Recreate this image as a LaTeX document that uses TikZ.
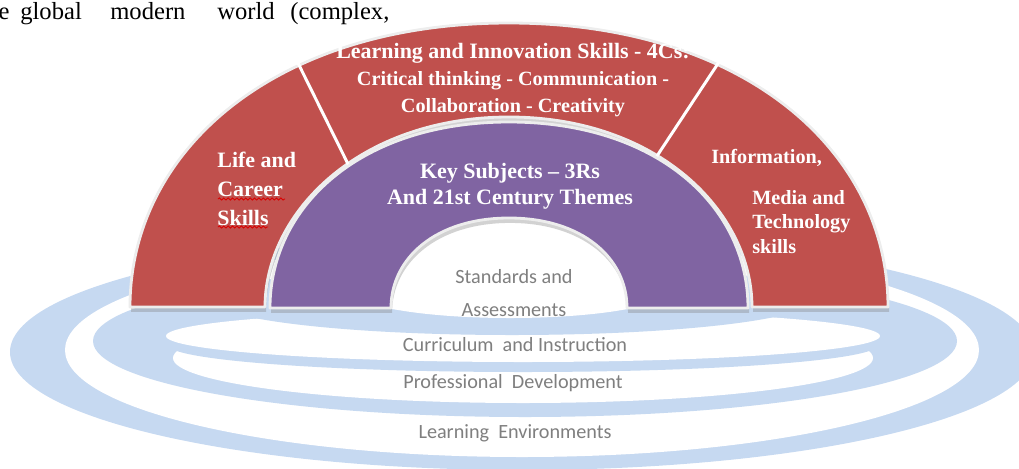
\documentclass[tikz,border=0pt]{standalone}
\usepackage{fontspec}
\setmainfont{Liberation Serif}
\newfontfamily\ringfont{Carlito}
\usetikzlibrary{shadows,decorations.pathmorphing}

\definecolor{archred}{HTML}{C0504D}
\definecolor{archpurple}{HTML}{8064A2}
\definecolor{ringblue}{HTML}{C6D9F1}
\definecolor{ringtext}{HTML}{7F7F7F}
\definecolor{rimgray}{HTML}{EDEDED}

\begin{document}
\begin{tikzpicture}[
  x=0.02cm, y=-0.02cm,
  band/.style={fill=ringblue},
  gap/.style={fill=white},
  arch/.style={draw=rimgray,line width=1.6pt,line join=round,
               drop shadow={shadow xshift=0.6pt,shadow yshift=-2.8pt,opacity=.35}},
  divider/.style={white,line width=1.7pt},
  lab/.style={text=white,font=\bfseries\fontsize{11.5}{14}\selectfont,inner sep=0pt},
  ringlab/.style={text=ringtext,font=\ringfont\fontsize{11.5}{14}\selectfont,inner sep=0pt},
  word/.style={inner sep=0pt,anchor=base west,font=\fontsize{14}{16}\selectfont},
  spell/.style={red!85!black,line width=0.5pt,decorate,
                decoration={snake,amplitude=0.6pt,segment length=2.5pt}}
]
\useasboundingbox (0,0) rectangle (1019,468);

% ---- running text cut off at the top ----
\node[word,anchor=base east] (w1) at (10,19) {the};
\node[word] (w2) at (20,19) {global};
\node[word] (w3) at (110,19) {modern};
\node[word] (w4) at (217,19) {world};
\node[word] (w5) at (290,19) {(complex,};

% ---- blue rings underneath, painted from the outside in ----
\fill[band] (522,352) ellipse [x radius=512,y radius=118];
\fill[gap]  (522,350) ellipse [x radius=457,y radius=107];
\fill[band] (525,341) ellipse [x radius=432,y radius=76];
\fill[gap]  (523,358) ellipse [x radius=350,y radius=45];
\fill[band] (523,345) ellipse [x radius=355,y radius=27];
\fill[gap]  (523,336) ellipse [x radius=357,y radius=26];
\fill[band] (512,300) ellipse [x radius=300,y radius=35];
\fill[gap]  (510,290) ellipse [x radius=160,y radius=28];
% opening under the inner arch stays white
\fill[gap] (391,309) .. controls (391,258) and (436,218) .. (509,218)
                     .. controls (582,218) and (627,258) .. (627,309) -- cycle;

% ---- outer arch (red) ----
\path[arch,fill=archred]
  (130,307) .. controls (130,151) and (274,23) .. (509,23)
            .. controls (744,23) and (888,151) .. (888,307)
  -- (752,307) .. controls (752,212) and (658,117) .. (509,117)
               .. controls (360,117) and (265,212) .. (265,307)
  -- cycle;
\draw[divider] (297,61) -- (349,166);
\draw[divider] (719,62) -- (655,159);

% ---- middle arch (purple) ----
\path[arch,fill=archpurple]
  (270,308) .. controls (270,206) and (361,122) .. (509,122)
            .. controls (657,122) and (748,206) .. (748,308)
  -- (627,308) .. controls (627,258) and (582,218) .. (509,218)
               .. controls (436,218) and (391,258) .. (391,308)
  -- cycle;

% ---- labels on the arches ----
\node[lab,font=\bfseries\fontsize{12.5}{15}\selectfont] (lis) at (513,53)
  {Learning and Innovation Skills - 4Cs:};
\node[lab] (ct) at (513,81) {Critical thinking - Communication -};
\node[lab] (cc) at (513,108) {Collaboration - Creativity};
\node[lab,anchor=west,align=left,font=\bfseries\fontsize{12.5}{16.5}\selectfont]
  (lcs) at (217,189) {Life and\\Career\\Skills};
\draw[spell] (218,199) -- (285,199);
\draw[spell] (218,227) -- (268,227);
\node[lab,anchor=west] (inf) at (711,158) {Information,};
\node[lab,anchor=west,align=left,font=\bfseries\fontsize{11.5}{13.8}\selectfont]
  (mts) at (752,222) {Media and\\Technology\\skills};
\node[lab,font=\bfseries\fontsize{12.5}{15}\selectfont,align=center] (ks) at (510,186)
  {Key Subjects -- 3Rs\\And 21st Century Themes};

% ---- labels on the rings ----
\node[ringlab] (sa1) at (514,277) {Standards and};
\node[ringlab] (sa2) at (514,310) {Assessments};
\node[ringlab] (ci) at (515,345) {Curriculum\ \ and Instruction};
\node[ringlab] (pd) at (513,383) {Professional\ \ Development};
\node[ringlab] (le) at (515,433) {Learning\ \ Environments};

\end{tikzpicture}
\end{document}
